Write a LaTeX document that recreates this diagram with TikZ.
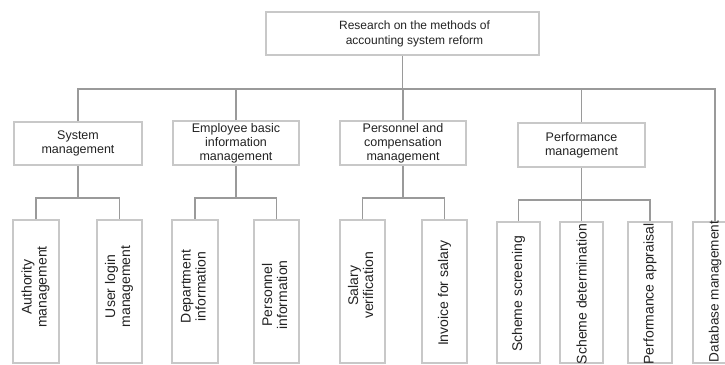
\documentclass[tikz,border=0pt]{standalone}
\usepackage{fontspec}
\setmainfont{Liberation Sans}
\definecolor{boxc}{HTML}{C8C8C8}
\definecolor{linec}{HTML}{9A9A9A}
\definecolor{txtc}{HTML}{222222}
\newcommand\twol[2]{\rotatebox{90}{\begin{tabular}{@{}c@{}}#1\\#2\end{tabular}}}
\newcommand\onel[1]{\rotatebox{90}{#1}}
\begin{document}
\begin{tikzpicture}[x=1pt,y=-1pt,
  box/.style={draw=boxc, line width=1.6pt, inner sep=0pt, text=txtc, align=center},
  mid/.style={box, minimum width=126pt, minimum height=44pt, font=\fontsize{12.5}{14}\selectfont},
  leaf/.style={box, minimum width=45pt, minimum height=143pt},
  pleaf/.style={box, minimum width=43pt, minimum height=141pt},
  ltxt/.style={text=txtc, inner sep=0pt, font=\fontsize{14}{15}\selectfont},
  conn/.style={draw=linec, line width=1.3pt}]
\useasboundingbox (0,0) rectangle (725,364);
% root
\node[box, minimum width=273pt, minimum height=43pt,
  label={[text=txtc, align=center, inner sep=0pt, font=\fontsize{12}{15}\selectfont, xshift=12pt]center:Research on the methods of\\accounting system reform}] (root) at (402.5,33.5) {};
% level 2
\node[mid, minimum width=128pt, minimum height=43pt] (sys) at (78,143.5) {System\\management};
\node[mid] (emp) at (236,143) {Employee basic\\information\\management};
\node[mid] (per) at (403,143) {Personnel and\\compensation\\management};
\node[mid, minimum width=127pt] (perf) at (581.5,145) {Performance\\management};
% leaves
\node[leaf, minimum width=46pt, label={[ltxt,yshift=4.5pt]center:\twol{Authority}{management}}] (auth) at (36,291.5) {};
\node[leaf, label={[ltxt,yshift=5pt]center:\twol{User login}{management}}] (ulog) at (119.5,291.5) {};
\node[leaf, minimum width=46pt, label={[ltxt,yshift=5pt]center:\twol{Department}{information}}] (dept) at (195,291.5) {};
\node[leaf, label={[ltxt,yshift=-3.5pt]center:\twol{Personnel}{information}}] (pinf) at (276.5,291.5) {};
\node[leaf, label={[ltxt,yshift=6pt]center:\twol{Salary}{verification}}] (salv) at (362.5,291.5) {};
\node[leaf, label={[ltxt,yshift=-1.5pt]center:\onel{Invoice for salary}}] (inv) at (444.5,291.5) {};
\node[pleaf, label={[ltxt,yshift=-1.5pt]center:\onel{Scheme screening}}] (ssc) at (518.5,292.5) {};
\node[pleaf, label={[ltxt,yshift=-1.5pt]center:\onel{Scheme determination}}] (sdet) at (581.5,292.5) {};
\node[pleaf, minimum width=44pt, label={[ltxt,yshift=-1.5pt]center:\onel{Performance appraisal}}] (papp) at (650,292.5) {};
\node[pleaf, minimum width=44pt, label={[ltxt,yshift=1pt,font=\fontsize{13.6}{15}\selectfont]center:\onel{Database management}}] (db) at (715,292.5) {};
% connectors
\coordinate (busy) at (0,89);
\coordinate (sba) at (0,198);
\coordinate (sbb) at (0,200);
\draw[conn] (root.south) -- (root.south |- busy);
\draw[conn] (sys.north) -- (sys.north |- busy) -| (db.north);
\draw[conn] (emp.north) -- (emp.north |- busy);
\draw[conn] (per.north) -- (per.north |- busy);
\draw[conn] (perf.north) -- (perf.north |- busy);
\draw[conn] (sys.south) -- (sys.south |- sba);
\draw[conn] (auth.north) -- (auth.north |- sba) -| (ulog.north);
\draw[conn] (emp.south) -- (emp.south |- sba);
\draw[conn] (dept.north) -- (dept.north |- sba) -| (pinf.north);
\draw[conn] (per.south) -- (per.south |- sba);
\draw[conn] (salv.north) -- (salv.north |- sba) -| (inv.north);
\draw[conn] (perf.south) -- (sdet.north);
\draw[conn] (ssc.north) -- (ssc.north |- sbb) -| (papp.north);
\end{tikzpicture}
\end{document}
